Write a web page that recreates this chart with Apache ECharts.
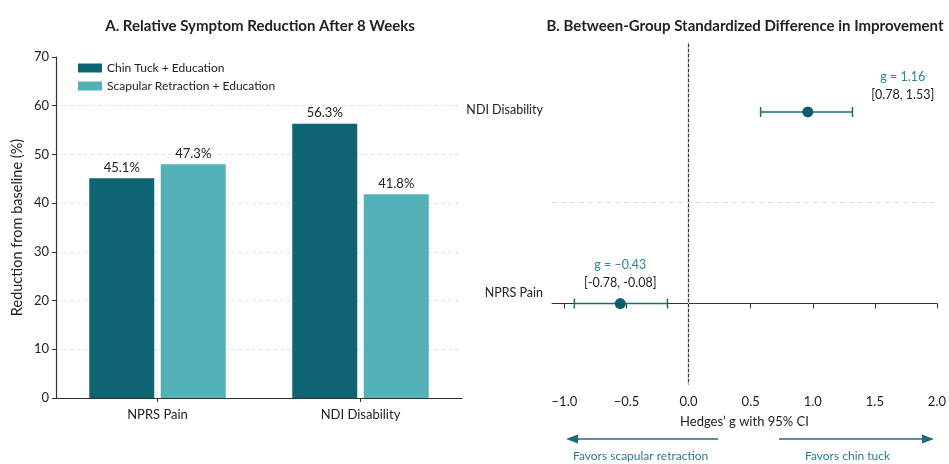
<!DOCTYPE html>
<html><head><meta charset="utf-8">
<script src="https://cdn.jsdelivr.net/npm/echarts@6/dist/echarts.min.js"></script>
<style>html,body{margin:0;padding:0;background:#fff}#c{width:949px;height:464px}</style>
</head><body><div id="c"></div>
<script>
// ---- Panel A data ----
const categories = ['NPRS Pain', 'NDI Disability'];
const seriesNames = ['Chin Tuck + Education', 'Scapular Retraction + Education'];
const chinTuck = [45.1, 56.3];
const scapular = [48.0, 41.8];
const chinTuckLabels = ['45.1%', '56.3%'];
const scapularLabels = ['47.3%', '41.8%'];

// ---- Panel B data ----
const forestOutcomes = ['NPRS Pain', 'NDI Disability'];
const gPlotted = [-0.55, 0.96];
const ciLowPlotted = [-0.92, 0.58];
const ciHighPlotted = [-0.17, 1.32];
const gText = ['g = \u22120.43', 'g = 1.16'];
const ciText = ['[-0.78, -0.08]', '[0.78, 1.53]'];
const forestXTicks = [-1.0, -0.5, 0, 0.5, 1.0, 1.5, 2.0];
const favorsLeft = 'Favors scapular retraction';
const favorsRight = 'Favors chin tuck';

const FONT = 'Lato, "Open Sans", sans-serif';
const DARK = '#0e6472';
const LIGHT = '#53b1b8';
const TEAL = '#1b6c7a';

const chart = echarts.init(document.getElementById('c'), null, {renderer: 'canvas'});

const labelOffsets = [[0, 0], [95, 4]];

const option = {
  backgroundColor: '#ffffff',
  textStyle: {fontFamily: FONT},
  animation: false,
  title: [
    {text: 'A. Relative Symptom Reduction After 8 Weeks', left: 255, top: 14, textAlign: 'center',
     textStyle: {fontFamily: FONT, fontSize: 15, fontWeight: 'bold', color: '#222'}},
    {text: 'B. Between-Group Standardized Difference in Improvement', left: 740, top: 14, textAlign: 'center',
     textStyle: {fontFamily: FONT, fontSize: 15, fontWeight: 'bold', color: '#222'}}
  ],
  legend: {
    data: seriesNames, orient: 'vertical', left: 73, top: 57,
    itemWidth: 24, itemHeight: 9, itemGap: 6, icon: 'rect',
    textStyle: {fontFamily: FONT, fontSize: 12, color: '#222'}
  },
  grid: [
    {left: 56, top: 57, width: 406, height: 341},
    {left: 552, top: 43, width: 390, height: 341}
  ],
  xAxis: [
    {type: 'category', gridIndex: 0, data: categories, boundaryGap: true,
     axisLine: {lineStyle: {color: '#333', width: 1.2}},
     axisTick: {show: true, alignWithLabel: true, length: 4, lineStyle: {color: '#333'}},
     axisLabel: {fontFamily: FONT, fontSize: 13, color: '#222', margin: 10}},
    {type: 'value', gridIndex: 1, min: -1.1, max: 2.0,
     axisLine: {show: true, lineStyle: {color: '#333', width: 1.2}},
     axisTick: {show: true, length: 5, customValues: forestXTicks, lineStyle: {color: '#333'}},
     axisLabel: {customValues: forestXTicks, fontFamily: FONT, fontSize: 13, color: '#222', margin: 11,
       formatter: v => (v < 0 ? '\u2212' : '') + Math.abs(v).toFixed(1)},
     splitLine: {show: false},
     name: 'Hedges\u2019 g with 95% CI', nameLocation: 'middle', nameGap: 31,
     nameTextStyle: {fontFamily: FONT, fontSize: 13, color: '#222'}}
  ],
  yAxis: [
    {type: 'value', gridIndex: 0, min: 0, max: 70, interval: 10,
     axisLine: {show: true, lineStyle: {color: '#333', width: 1.2}},
     axisTick: {show: true, length: 4, lineStyle: {color: '#333'}},
     axisLabel: {fontFamily: FONT, fontSize: 13, color: '#222', margin: 7},
     splitLine: {show: true, lineStyle: {type: [4, 3], width: 0.8,
       color: ['#dcdcdc','#dcdcdc','#dcdcdc','#dcdcdc','#dcdcdc','#dcdcdc','#dcdcdc','rgba(0,0,0,0)']}},
     name: 'Reduction from baseline (%)', nameLocation: 'middle', nameGap: 31,
     nameTextStyle: {fontFamily: FONT, fontSize: 14.5, color: '#222'}},
    {type: 'value', gridIndex: 1, min: -0.42, max: 1.36,
     axisLine: {show: true, lineStyle: {color: '#333', width: 1.2}},
     axisTick: {show: false},
     axisLabel: {customValues: [0, 1], fontFamily: FONT, fontSize: 12, color: '#222', margin: 9,
       formatter: v => (Math.round(v) === 0 ? '{lo|' : '{hi|') + forestOutcomes[Math.round(v)] + '}',
       rich: {
         lo: {fontFamily: FONT, fontSize: 12.5, color: '#222', padding: [0, 0, 22, 0]},
         hi: {fontFamily: FONT, fontSize: 12.5, color: '#222', padding: [0, 0, 3, 0]}
       }},
     splitLine: {show: false}}
  ],
  series: [
    {name: seriesNames[0], type: 'bar', xAxisIndex: 0, yAxisIndex: 0, data: chinTuck,
     barWidth: 65, barGap: '10%', itemStyle: {color: DARK},
     label: {show: true, position: 'top', distance: 4, fontFamily: FONT, fontSize: 13, color: '#222',
       formatter: p => chinTuckLabels[p.dataIndex]}},
    {name: seriesNames[1], type: 'bar', xAxisIndex: 0, yAxisIndex: 0, data: scapular,
     barWidth: 65, barGap: '10%', itemStyle: {color: LIGHT},
     label: {show: true, position: 'top', distance: 4, fontFamily: FONT, fontSize: 13, color: '#222',
       formatter: p => scapularLabels[p.dataIndex]}},
    {type: 'custom', xAxisIndex: 1, yAxisIndex: 1,
     data: forestOutcomes.map((_, i) => [ciLowPlotted[i], ciHighPlotted[i], i]),
     renderItem: (params, api) => {
       const a = api.coord([api.value(0), api.value(2)]);
       const b = api.coord([api.value(1), api.value(2)]);
       const h = 5;
       const st = {stroke: TEAL, lineWidth: 1.5};
       return {type: 'group', children: [
         {type: 'line', shape: {x1: a[0], y1: a[1], x2: b[0], y2: b[1]}, style: st},
         {type: 'line', shape: {x1: a[0], y1: a[1] - h, x2: a[0], y2: a[1] + h}, style: st},
         {type: 'line', shape: {x1: b[0], y1: b[1] - h, x2: b[0], y2: b[1] + h}, style: st}
       ]};
     },
     z: 3},
    {type: 'scatter', xAxisIndex: 1, yAxisIndex: 1,
     data: forestOutcomes.map((_, i) => ({value: [gPlotted[i], i],
       label: {offset: labelOffsets[i]}})),
     symbolSize: 11, itemStyle: {color: '#0d5e6b', opacity: 1}, z: 4,
     label: {show: true, position: 'top', distance: 6, align: 'center',
       formatter: p => '{g|' + gText[p.dataIndex] + '}\n{ci|' + ciText[p.dataIndex] + '}',
       rich: {
         g: {fontFamily: FONT, fontSize: 12.5, color: '#2e8797', lineHeight: 18, align: 'center'},
         ci: {fontFamily: FONT, fontSize: 12.5, color: '#222', lineHeight: 18, align: 'center'}
       }},
     markLine: {silent: true, symbol: 'none', label: {show: false},
       data: [
         {xAxis: 0, lineStyle: {type: [2, 3], color: '#c4c4c4', width: 1}},
         {yAxis: 0.53, lineStyle: {type: [5, 4], color: '#dddddd', width: 1}}
       ]}}
  ],
  graphic: [
    {type: 'line', shape: {x1: 718, y1: 439, x2: 576, y2: 439}, style: {stroke: TEAL, lineWidth: 1.6}},
    {type: 'polygon', shape: {points: [[566, 439], [578, 434.5], [578, 443.5]]}, style: {fill: TEAL}},
    {type: 'line', shape: {x1: 779, y1: 439, x2: 924, y2: 439}, style: {stroke: TEAL, lineWidth: 1.6}},
    {type: 'polygon', shape: {points: [[934, 439], [922, 434.5], [922, 443.5]]}, style: {fill: TEAL}},
    {type: 'text', left: 643 - 70, top: 450, style: {text: favorsLeft, fill: '#2a7d8c', font: '12px ' + FONT, textAlign: 'left'}},
    {type: 'text', left: 850 - 45, top: 450, style: {text: favorsRight, fill: '#2a7d8c', font: '12px ' + FONT}}
  ]
};
chart.setOption(option);
</script>
</body></html>
